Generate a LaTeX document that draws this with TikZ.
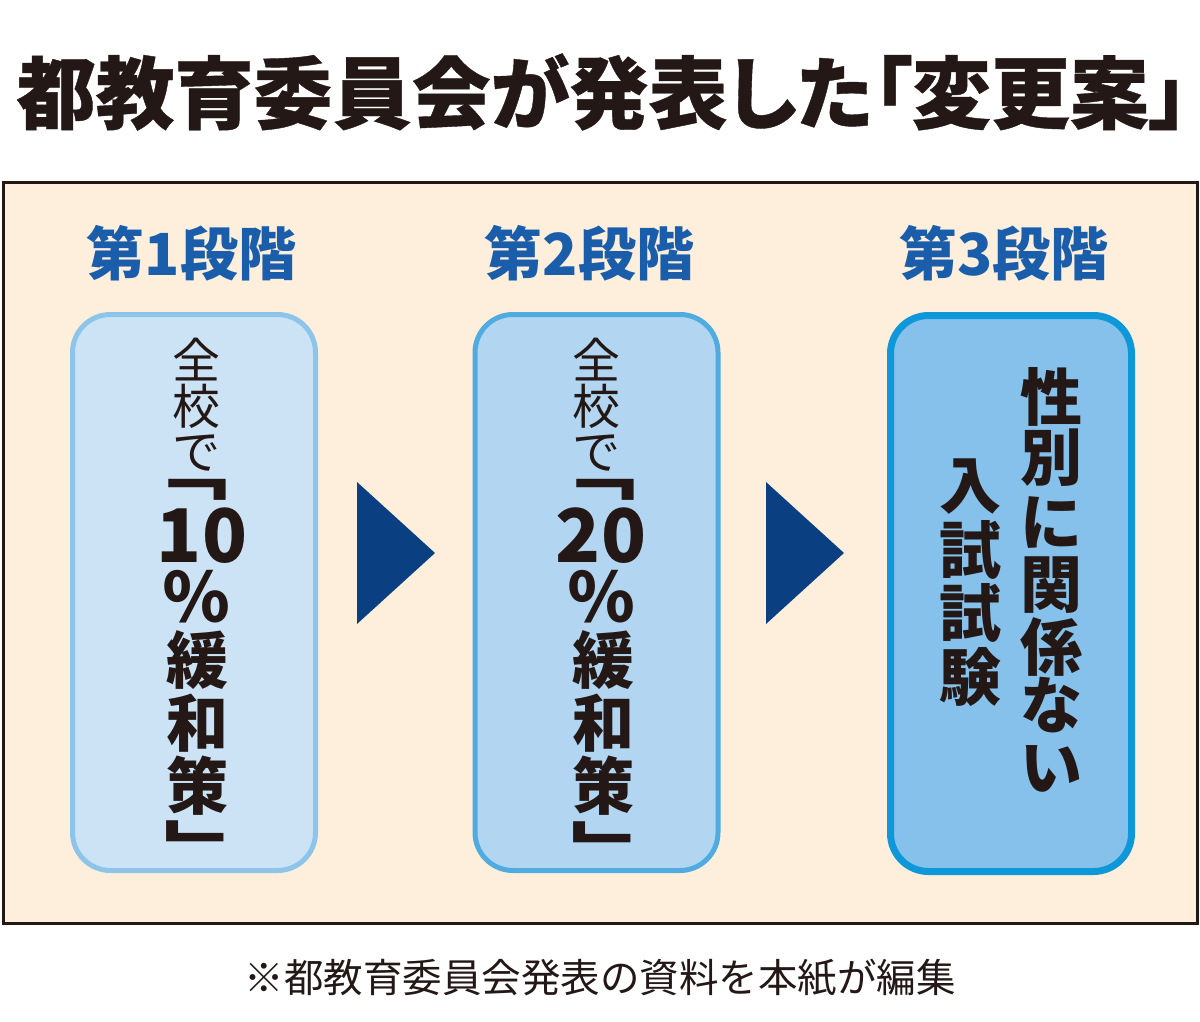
\documentclass[tikz,border=0pt]{standalone}
\usepackage{fontspec}
\usepackage{graphicx}
\setmainfont{Noto Sans CJK JP}
\newfontfamily\titlefont{Noto Sans CJK JP}[RawFeature=+palt,BoldFeatures={FakeBold=0.5}]
\newcommand\vopenbr{\scalebox{1.35}[1]{﹁}}
\newcommand\vclosebr{\scalebox{1.35}[1]{﹂}}
\definecolor{inkc}{HTML}{231815}
\definecolor{creamc}{HTML}{FEEFDC}
\definecolor{labelc}{HTML}{1A5DAA}
\definecolor{fillA}{HTML}{CCE3F5}
\definecolor{lineA}{HTML}{8CC4EA}
\definecolor{fillB}{HTML}{B2D6F1}
\definecolor{lineB}{HTML}{50ABE1}
\definecolor{fillC}{HTML}{85C1EB}
\definecolor{lineC}{HTML}{0F98D9}
\definecolor{arrowc}{HTML}{0A3F82}
\begin{document}
\begin{tikzpicture}[x=1pt,y=-1pt,
  every node/.style={inner sep=0pt,outer sep=0pt,text=inkc},
  stagebox/.style={draw,rounded corners=38pt,line width=5pt,minimum width=243pt,minimum height=556pt},
  stagelabel/.style={text=labelc,font=\bfseries\fontsize{58}{58}\selectfont},
  thinch/.style={font=\fontsize{48}{48}\selectfont},
  boldch/.style={font=\bfseries\fontsize{62}{62}\selectfont},
  pctch/.style={font=\bfseries\fontsize{68}{68}\selectfont},
  digitch/.style={font=\bfseries\fontsize{74}{74}\selectfont},
  arrowtri/.style={fill=arrowc}]
\useasboundingbox (0,0) rectangle (1200,1022);
% title
\node (title) at (602.5,92) {\titlefont\bfseries\fontsize{79}{80}\selectfont 都教育委員会が発表した「変更案」};
% panel
\node[draw=inkc,fill=creamc,line width=3pt,minimum width=1194pt,minimum height=740pt] (panel) at (600,553) {};
% stage labels
\node[stagelabel] (lab1) at (191.5,253) {第1段階};
\node[stagelabel] (lab2) at (589.5,253) {第2段階};
\node[stagelabel] (lab3) at (1004,253) {第3段階};
% boxes
\node[stagebox,draw=lineA,fill=fillA] (box1) at (194,592.5) {};
\node[stagebox,draw=lineB,fill=fillB] (box2) at (596.5,592.5) {};
\node[stagebox,draw=lineC,fill=fillC,line width=7pt,minimum width=241pt,minimum height=556pt] (box3) at (1011,593.5) {};
% arrows
\coordinate (t1a) at (357,482); \coordinate (t1b) at (435,553); \coordinate (t1c) at (357,624);
\fill[arrowtri] (t1a) -- (t1b) -- (t1c) -- cycle;
\coordinate (t2a) at (766,482); \coordinate (t2b) at (844,553); \coordinate (t2c) at (766,624);
\fill[arrowtri] (t2a) -- (t2b) -- (t2c) -- cycle;
% box 1 and box 2 text
\foreach \ch/\yy [count=\i] in {全/360,校/406,で/453}{
  \node[thinch] (ba\i) at (196.5,\yy) {\ch};
  \node[thinch] (bb\i) at (596.5,\yy) {\ch};
}
\node[boldch] (ba4) at (186.4,490) {\vopenbr};
\node[boldch] (bb4) at (593.9,490) {\vopenbr};
\node[digitch] (ba5) at (202,535.5) {10};
\node[digitch] (bb5) at (601,535.5) {20};
\node[pctch] (ba6) at (196,597) {％};
\node[pctch] (bb6) at (601,597) {％};
\foreach \ch/\yy [count=\i from 7] in {緩/660,和/723,策/786}{
  \node[boldch] (ba\i) at (197.5,\yy) {\ch};
  \node[boldch] (bb\i) at (603,\yy) {\ch};
}
\node[boldch] (ba10) at (206.1,846.5) {\vclosebr};
\node[boldch] (bb10) at (613.6,847.5) {\vclosebr};
% box 3 text
\foreach \ch/\yy [count=\i] in {性/397,別/458,に/523,関/585,係/647,な/705,い/769}{
  \node[boldch] (ca\i) at (1051,\yy) {\ch};
}
\foreach \ch/\yy [count=\i] in {入/487,試/550,試/613,験/677}{
  \node[boldch] (cb\i) at (970,\yy) {\ch};
}
% footnote
\node[font=\fontsize{39.5}{40}\selectfont] (note) at (600,978) {※都教育委員会発表の資料を本紙が編集};
\end{tikzpicture}
\end{document}
